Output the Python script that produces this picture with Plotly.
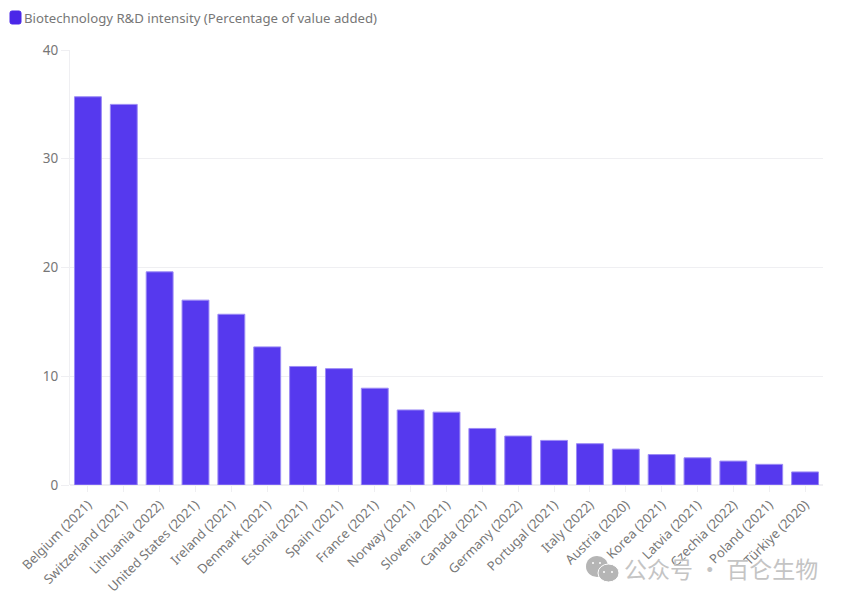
#!/usr/bin/env python3
import plotly.graph_objects as go

countries = ['Belgium (2021)', 'Switzerland (2021)', 'Lithuania (2022)', 'United States (2021)',
             'Ireland (2021)', 'Denmark (2021)', 'Estonia (2021)', 'Spain (2021)', 'France (2021)',
             'Norway (2021)', 'Slovenia (2021)', 'Canada (2021)', 'Germany (2022)', 'Portugal (2021)',
             'Italy (2022)', 'Austria (2020)', 'Korea (2021)', 'Latvia (2021)', 'Czechia (2022)',
             'Poland (2021)', 'Türkiye (2020)']
intensity = [35.7, 35.0, 19.6, 17.0, 15.7, 12.7, 10.9, 10.7, 8.9, 6.9, 6.7,
             5.2, 4.5, 4.1, 3.8, 3.3, 2.8, 2.5, 2.2, 1.9, 1.2]
y_ticks = [0, 10, 20, 30, 40]
series_name = 'Biotechnology R&D intensity (Percentage of value added)'
watermark = '公众号 · 百仑生物'

W, H = 860, 596
FONT = 'Noto Sans'
BAR = '#5639EE'
GRID = '#EFEFF2'
PLOT_W, PLOT_H = 753, 435


def px_x(x):
    return (x - 70) / PLOT_W


def px_y(y):
    return (485 - y) / PLOT_H


fig = go.Figure(go.Bar(x=countries, y=intensity, name=series_name, width=0.75,
                       marker=dict(color=BAR, line=dict(color='#9B8AF5', width=1))))

fig.update_layout(
    width=W, height=H, showlegend=False, plot_bgcolor='white', paper_bgcolor='white',
    margin=dict(l=70, r=37, t=50, b=111, autoexpand=False),
    font=dict(family=FONT, size=12, color='#666666'),
)
fig.update_xaxes(tickangle=-45, ticks='outside', ticklen=6, tickcolor=GRID, showline=False,
                 showgrid=False, tickfont=dict(size=13, color='#777777'))
fig.update_yaxes(range=[0, 40], tickvals=y_ticks, ticks='outside', ticklen=8, tickcolor=GRID,
                 showline=True, linecolor=GRID, gridcolor=GRID, zeroline=True, zerolinecolor=GRID,
                 tickfont=dict(size=13.5, color='#777777'))

# legend swatch and label
swatch = [('M', 12, 11), ('L', 19, 11), ('Q', 21, 11), ('', 21, 13), ('L', 21, 22),
          ('Q', 21, 24), ('', 19, 24), ('L', 12, 24), ('Q', 10, 24), ('', 10, 22),
          ('L', 10, 13), ('Q', 10, 11), ('', 12, 11)]
fig.add_shape(type='path', xref='paper', yref='paper', line=dict(color='#4A27E8', width=1),
              fillcolor='#4A27E8',
              path=' '.join(f'{c} {px_x(x):.5f} {px_y(y):.5f}' for c, x, y in swatch) + ' Z')
fig.add_annotation(text=series_name, xref='paper', yref='paper', x=px_x(24), y=px_y(18),
                   xanchor='left', yanchor='middle', showarrow=False, xshift=-2,
                   font=dict(size=13.2, color='#777777'))

# watermark
fig.add_annotation(text=watermark, xref='paper', yref='paper', x=px_x(820), y=px_y(568),
                   xanchor='right', yanchor='middle', showarrow=False,
                   font=dict(family='Noto Sans CJK SC', size=23, color='#C4C4C4'))
fig.add_shape(type='circle', xref='paper', yref='paper', x0=px_x(586), x1=px_x(608),
              y0=px_y(577), y1=px_y(556), fillcolor='#B5B5B5', line_width=0)
fig.add_shape(type='circle', xref='paper', yref='paper', x0=px_x(598), x1=px_x(619),
              y0=px_y(582), y1=px_y(564), fillcolor='#B5B5B5', line=dict(color='white', width=1))
for ex, ey in [(593, 563), (600, 563), (604, 572), (612, 572)]:
    fig.add_shape(type='circle', xref='paper', yref='paper', x0=px_x(ex - 1), x1=px_x(ex + 1),
                  y0=px_y(ey + 1), y1=px_y(ey - 1), fillcolor='white', line_width=0)

fig.write_html("out.html", post_script="document.body.style.margin='0';",
               config={'displayModeBar': False})
